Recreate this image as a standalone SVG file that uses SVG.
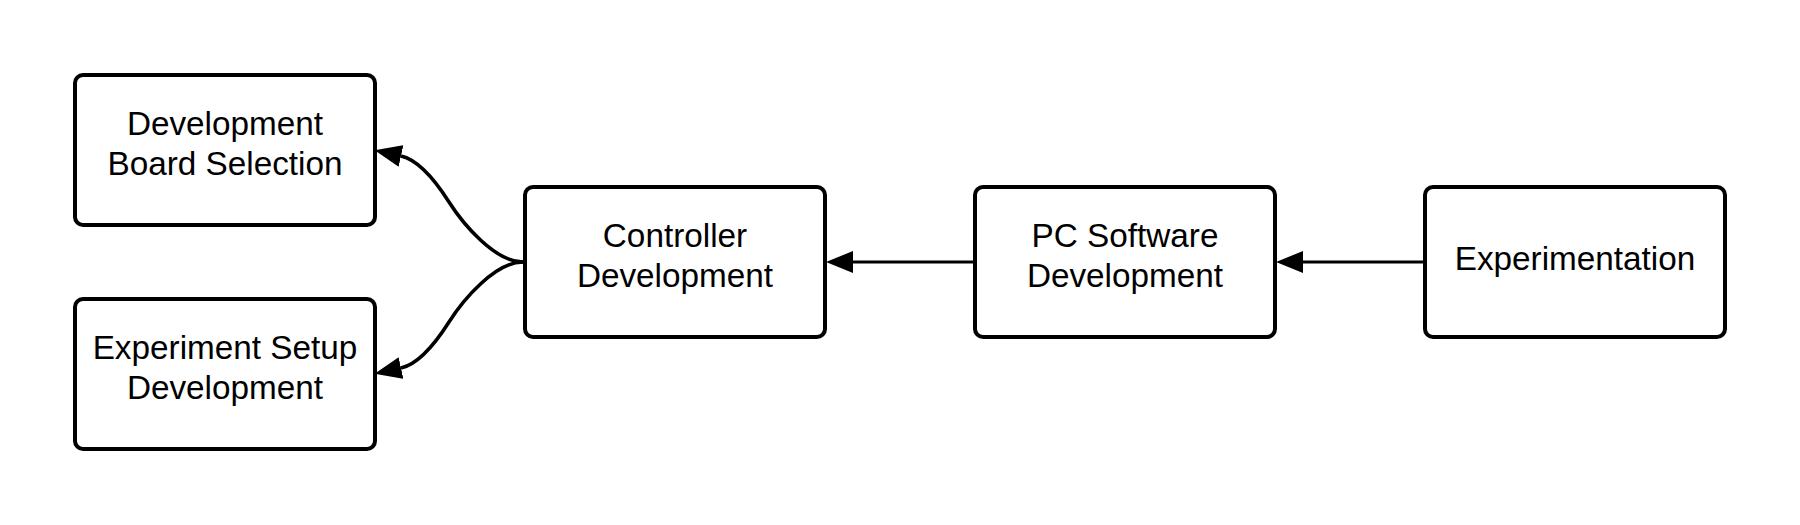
<svg xmlns="http://www.w3.org/2000/svg" width="1800" height="525" viewBox="0 0 1800 525">
<style>
.box{fill:#fff;stroke:#000;stroke-width:4}
.lbl{font-family:"Liberation Sans",Arial,sans-serif;font-size:33.3px;fill:#000;text-anchor:middle}
.conn{fill:none;stroke:#000;stroke-width:3.2;marker-end:url(#arr)}
.curve{stroke-width:3.6}
</style>
<defs>
<marker id="arr" markerUnits="userSpaceOnUse" viewBox="0 0 27 22" markerWidth="27" markerHeight="22" refX="0" refY="11" orient="auto">
<path d="M0,0 L27,11 L0,22 z" fill="#000"/>
</marker>
</defs>
<rect width="1800" height="525" fill="#fff"/>
<g id="connectors">
<path class="conn curve" d="M523,262 C495,262 463,224 449,202 C435,180 419,160 401,156"/>
<path class="conn curve" d="M523,262 C495,262 463,300 449,322 C435,344 419,364 401,368"/>
<path class="conn" d="M973,262 L853,262"/>
<path class="conn" d="M1423,262 L1303,262"/>
</g>
<g id="n1">
<rect class="box" x="75" y="75" width="300" height="150" rx="8"/>
<text class="lbl" x="225" y="135">Development</text>
<text class="lbl" x="225" y="175">Board Selection</text>
</g>
<g id="n2">
<rect class="box" x="75" y="299" width="300" height="150" rx="8"/>
<text class="lbl" x="225" y="359">Experiment Setup</text>
<text class="lbl" x="225" y="399">Development</text>
</g>
<g id="n3">
<rect class="box" x="525" y="187" width="300" height="150" rx="8"/>
<text class="lbl" x="675" y="247">Controller</text>
<text class="lbl" x="675" y="287">Development</text>
</g>
<g id="n4">
<rect class="box" x="975" y="187" width="300" height="150" rx="8"/>
<text class="lbl" x="1125" y="247">PC Software</text>
<text class="lbl" x="1125" y="287">Development</text>
</g>
<g id="n5">
<rect class="box" x="1425" y="187" width="300" height="150" rx="8"/>
<text class="lbl" x="1575" y="270">Experimentation</text>
</g>
</svg>
